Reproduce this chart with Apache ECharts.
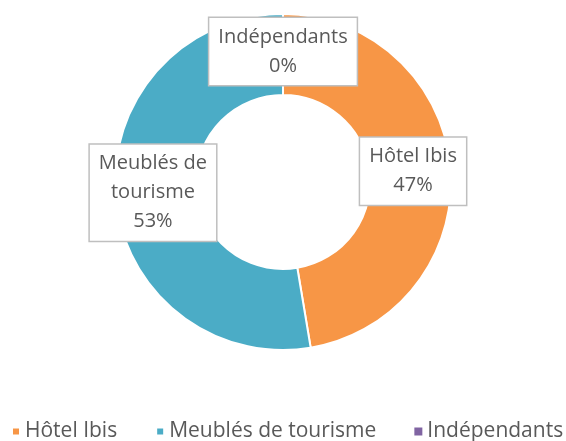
<!DOCTYPE html>
<html>
<head>
<meta charset="utf-8">
<script src="https://cdn.jsdelivr.net/npm/echarts@6/dist/echarts.min.js"></script>
<style>
  html, body { margin: 0; padding: 0; background: #fff; }
  #main { width: 566px; height: 441px; }
</style>
</head>
<body>
<div id="main"></div>
<script>
// données
const categories = ['Hôtel Ibis', 'Meublés de tourisme', 'Indépendants'];
const values = [9, 10, 0];
const colors = ['#F79646', '#4BACC6', '#8064A2'];

const font = '"Open Sans", "Noto Sans", sans-serif';

// coupe les noms longs sur plusieurs lignes
function wrap(name) {
  const words = name.split(' ');
  const lines = [];
  let cur = '';
  words.forEach((w) => {
    const next = cur ? cur + ' ' + w : w;
    if (next.length > 12 && cur) {
      lines.push(cur);
      cur = w;
    } else {
      cur = next;
    }
  });
  lines.push(cur);
  return lines.join('\n');
}

const chart = echarts.init(document.getElementById('main'));
chart.setOption({
  animation: false,
  color: colors,
  legend: {
    data: categories.map((name, i) => ({ name: name, itemStyle: { color: colors[i] } })),
    top: 421,
    left: 11,
    width: 555,
    padding: 0,
    icon: 'rect',
    itemWidth: 8,
    itemHeight: 8,
    itemGap: 38,
    textStyle: {
      color: '#595959',
      fontSize: 21,
      lineHeight: 21,
      fontFamily: font
    }
  },
  series: [{
    type: 'pie',
    center: [283, 182],
    radius: [87, 168],
    clockwise: true,
    startAngle: 90,
    avoidLabelOverlap: false,
    itemStyle: { borderColor: '#fff', borderWidth: 2 },
    label: {
      show: true,
      position: 'inside',
      formatter: (p) => wrap(p.name) + '\n' + Math.round(p.percent) + '%',
      color: '#595959',
      fontSize: 20,
      fontFamily: font,
      lineHeight: 29,
      backgroundColor: '#fff',
      borderColor: '#BFBFBF',
      borderWidth: 1.5,
      padding: [5, 9, 4, 9]
    },
    labelLine: { show: false },
    emphasis: { disabled: true },
    data: categories.map((name, i) => ({
      name: name,
      value: values[i],
      itemStyle: values[i] === 0 ? { borderWidth: 0, color: 'transparent' } : undefined
    }))
  }]
});
</script>
</body>
</html>
